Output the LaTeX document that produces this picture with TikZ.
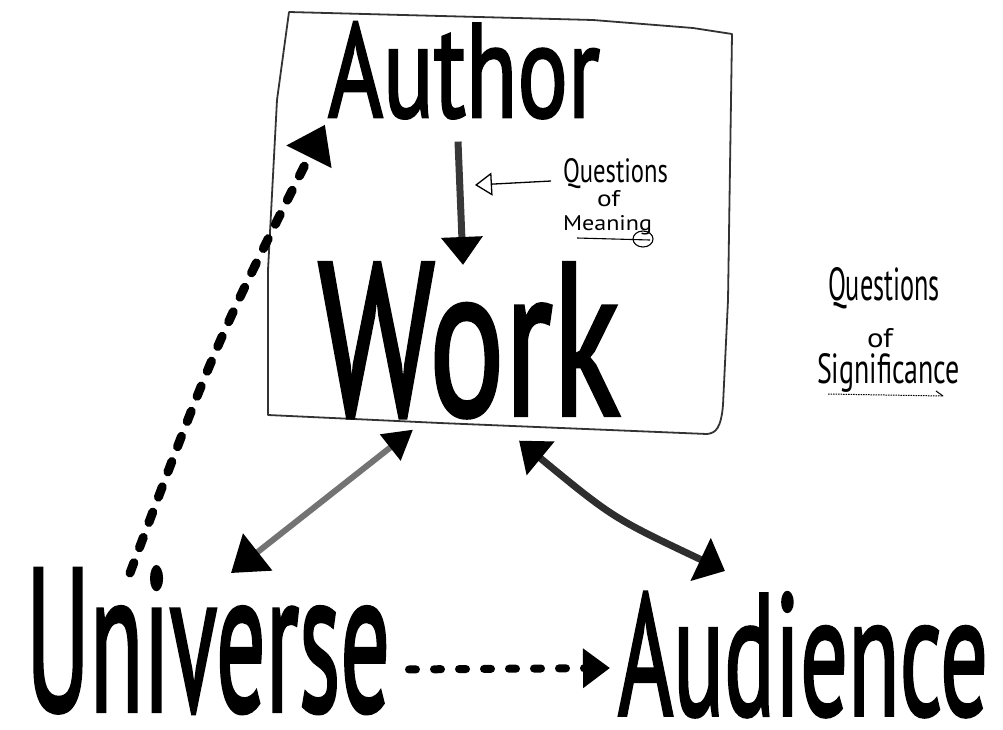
\documentclass[tikz,border=0pt]{standalone}
\usepackage{fontspec}
\usepackage{graphicx}
\setmainfont{PT Sans}
\newfontfamily\markerfont[FakeBold=2]{PT Sans}
\usetikzlibrary{arrows.meta}
\newcommand{\hw}[3]{\resizebox{#1}{#2}{\fontsize{100}{100}\selectfont #3}}
\newcommand{\hwb}[3]{\resizebox{#1}{#2}{\markerfont\fontsize{100}{100}\selectfont #3}}
\tikzset{
  txt/.style={inner sep=0pt, outer sep=0pt, anchor=base west},
  boxline/.style={line width=1.8pt, draw=black!80, line join=round},
  bighead/.style={-{Triangle[length=28pt,width=40pt,color=black]}},
  solidarrow/.style={line width=7pt, draw=black!78},
  greyarrow/.style={line width=6pt, draw=black!55},
  dasharrow/.style={line width=9pt, line cap=round, dash pattern=on 11pt off 16pt},
  dotarrow/.style={line width=8pt, line cap=round, dash pattern=on 7pt off 18pt},
  openhead/.style={line width=1.3pt, -{Triangle[open,length=17pt,width=23pt]}},
  thinline/.style={line width=1.1pt}
}
\begin{document}
\begin{tikzpicture}[x=1pt,y=-1pt]
\fill[white] (0,0) rectangle (1003,729);
\useasboundingbox (0,0) rectangle (1003,729);

% frame around Author and Work
\draw[boxline] (289,12) -- (593,20) -- (693,28) -- (732,34) -- (728,300) -- (723,405)
  .. controls (721,428) and (716,433) .. (707,434) -- (440,423) -- (268,415)
  -- (268,270) -- (277,100) -- cycle;

% main words
\node[txt] (author) at (328,117) {\hwb{272pt}{95pt}{Author}};
\node[txt] (work) at (318,415) {\hwb{302pt}{152pt}{Work}};
\node[txt] (universe) at (26,711) {\hwb{364pt}{144pt}{Universe}};
\node[txt] (audience) at (618,715) {\hwb{370pt}{123pt}{Audience}};

% Questions of Meaning
\node[txt] (qm1) at (563,182) {\hw{105pt}{24pt}{Questions}};
\node[txt] (qm2) at (597,206) {\hw{23pt}{16pt}{of}};
\node[txt] (qm3) at (563,230) {\hw{89pt}{15pt}{Meaning}};
\draw[thinline] (577,238) -- (650,240);
\draw[thinline] (643,239) ellipse (10pt and 8pt);
\coordinate (qmtip) at (475,185);
\draw[openhead] ([xshift=-12pt,yshift=1pt]qm1.base west) -- (qmtip);

% Questions of Significance
\node[txt] (qs1) at (828,300) {\hw{112pt}{33pt}{Questions}};
\node[txt] (qs2) at (867,347) {\hw{26pt}{19pt}{of}};
\node[txt] (qs3) at (817,383) {\hw{143pt}{30pt}{Significance}};
\draw[line width=1pt, dash pattern=on 1.5pt off 1pt] (828,394) -- (943,396);
\draw[line width=1pt] (936,391) -- (943,396);

% control points for the slightly curved connectors
\coordinate (cdash) at (216,343);
\coordinate (caud) at (613,518);

% connectors
\draw[solidarrow, bighead]
  ([xshift=-6pt,yshift=-23pt]author.south) -- ([xshift=-6pt,yshift=-2pt]work.north);
\draw[dasharrow, -{Triangle[length=36pt,width=48pt,color=black]}]
  ([xshift=104pt,yshift=-6pt]universe.north west) .. controls (cdash) ..
  ([xshift=-3pt,yshift=-6pt]author.south west);
\draw[greyarrow, {Triangle[length=34pt,width=46pt,color=black]}-{Triangle[length=29pt,width=32pt,color=black]}]
  ([xshift=205pt,yshift=-6pt]universe.north west) -- ([xshift=95pt,yshift=-12pt]work.south west);
\draw[solidarrow, draw=black!82, {Triangle[length=28pt,width=42pt,color=black]}-{Triangle[length=27pt,width=46pt,color=black]}]
  ([xshift=201pt,yshift=-23pt]work.south west) .. controls (caud) ..
  ([xshift=107pt,yshift=21pt]audience.north west);
\draw[dotarrow, -{Triangle[length=27pt,width=38pt,color=black]}]
  ([xshift=19pt,yshift=44pt]universe.south east) -- ([xshift=-8pt,yshift=47pt]audience.base west);
\end{tikzpicture}
\end{document}
